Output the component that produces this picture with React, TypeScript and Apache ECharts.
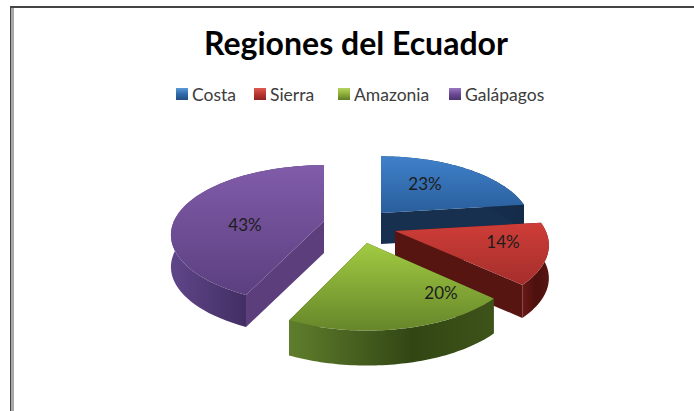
import React, { useEffect, useRef } from "react";
import * as echarts from "echarts";

const titleText = "Regiones del Ecuador";
const regions = ["Costa", "Sierra", "Amazonia", "Galápagos"];
const shares = [23, 14, 20, 43];

const FONT = "Lato, 'Open Sans', sans-serif";
const RX = 150, RY = 68, PERSP = 0.2;
const apex = [[381, 213], [395, 231], [367, 243], [324, 221]];
const stretch = [[0.985, 1], [1.005, 1], [1, 1.03], [1, 0.985]];
const depth = [31, 33, 35, 32];
const labelPos = [[425, 183], [503, 241], [441, 292], [245, 224]];
const seriesZ = [2, 3, 4, 1];
const legendLeft = [176, 254, 338, 449];

const grad = (x2: number, y2: number, stops: [number, string][]) =>
  new echarts.graphic.LinearGradient(0, 0, x2, y2, stops.map(([offset, color]) => ({ offset, color })));

const topFill = [
  [[0, "#3f81ca"], [1, "#2a5e9c"]],
  [[0, "#cf3d38"], [1, "#a42e2b"]],
  [[0, "#a2cb42"], [1, "#66862a"]],
  [[0, "#815ca9"], [1, "#5b3f80"]],
] as [number, string][][];
const outerFill = [
  [[0, "#1b3a60"], [1, "#142b48"]],
  [[0, "#6a1a16"], [0.5, "#4c100d"], [1, "#581512"]],
  [[0, "#5f7e2c"], [0.6, "#324614"], [1, "#3e5319"]],
  [[0, "#5f4689"], [0.55, "#3f2b5f"], [1, "#4c3470"]],
] as [number, string][][];
const cutFill = ["#17304f", "#561511", "#3c5118", "#5b3e7b"];
const legendFill = [
  [[0, "#5a9ad8"], [0.5, "#2f6aaa"], [1, "#234f82"]],
  [[0, "#dd5a55"], [0.5, "#bb3531"], [1, "#8c2421"]],
  [[0, "#b4d45c"], [0.5, "#8cb03a"], [1, "#5f7c26"]],
  [[0, "#9a78c0"], [0.5, "#6c4a96"], [1, "#4d3470"]],
] as [number, string][][];

const total = shares.reduce((a, b) => a + b, 0);
const startAngle = shares.map((_, i) =>
  (shares.slice(0, i).reduce((a, b) => a + b, 0) / total) * Math.PI * 2
);

function project(i: number, t: number): [number, number] {
  const u = Math.sin(t), v = Math.cos(t);
  const s = 1 / (1 + PERSP * v);
  return [apex[i][0] + RX * stretch[i][0] * u * s, apex[i][1] - RY * stretch[i][1] * v * s];
}

function makeRender(i: number) {
  return (_p: any, api: any) => {
    const sweep = (api.value(0) / total) * Math.PI * 2;
    const a0 = startAngle[i];
    const arc: [number, number][] = [];
    const n = 60;
    for (let k = 0; k <= n; k++) arc.push(project(i, a0 + (sweep * k) / n));
    const d = depth[i];
    const down = (p: number[]) => [p[0], p[1] + d];
    const ap = apex[i];
    const first = arc[0], last = arc[n];
    const poly = (points: number[][], fill: any) => ({ type: "polygon", shape: { points }, style: { fill } });
    return {
      type: "group",
      children: [
        poly([ap, first, down(first), down(ap)], cutFill[i]),
        poly([ap, last, down(last), down(ap)], cutFill[i]),
        poly([...arc, ...arc.slice().reverse().map(down)], grad(1, 0, outerFill[i])),
        { ...poly([ap, ...arc], grad(0, 1, topFill[i])) },
        {
          type: "text",
          x: labelPos[i][0],
          y: labelPos[i][1],
          style: {
            text: `${api.value(0)}%`,
            fill: "#1c1c1c",
            font: `17px ${FONT}`,
            align: "center",
            verticalAlign: "middle",
            textAlign: "center",
            textVerticalAlign: "middle",
          },
        },
      ],
    };
  };
}

export default function App() {
  const ref = useRef<HTMLDivElement>(null);
  useEffect(() => {
    const chart = echarts.init(ref.current!, undefined, { renderer: "svg" });
    chart.setOption({
      animation: false,
      backgroundColor: "#ffffff",
      title: {
        text: titleText,
        left: 199,
        top: 21,
        textStyle: { fontFamily: FONT, fontSize: 32, fontWeight: "bold", color: "#000000" },
      },
      legend: regions.map((name, i) => ({
        data: [name],
        left: legendLeft[i],
        top: 85,
        itemWidth: 12,
        itemHeight: 12,
        itemGap: 0,
        icon: "rect",
        selectedMode: false,
        padding: 0,
        textStyle: { fontFamily: FONT, fontSize: 17.5, color: "#3c3c3c", padding: [0, 0, 0, -1] },
      })),
      graphic: [
        { type: "rect", shape: { x: 10, y: 6, width: 684, height: 2 }, style: { fill: "#444444" }, silent: true },
        { type: "rect", shape: { x: 10, y: 6, width: 1, height: 405 }, style: { fill: "#444444" }, silent: true },
        { type: "rect", shape: { x: 11, y: 8, width: 3, height: 403 }, style: { fill: "#a8a8a8" }, silent: true },
      ],
      series: regions.map((name, i) => ({
        type: "custom",
        name,
        coordinateSystem: "none",
        z: seriesZ[i],
        silent: true,
        itemStyle: { color: grad(0, 1, legendFill[i]) },
        renderItem: makeRender(i),
        data: [[shares[i]]],
      })),
    });
    return () => chart.dispose();
  }, []);
  return <div ref={ref} style={{ position: "absolute", left: 0, top: 0, width: 694, height: 411 }} />;
}
